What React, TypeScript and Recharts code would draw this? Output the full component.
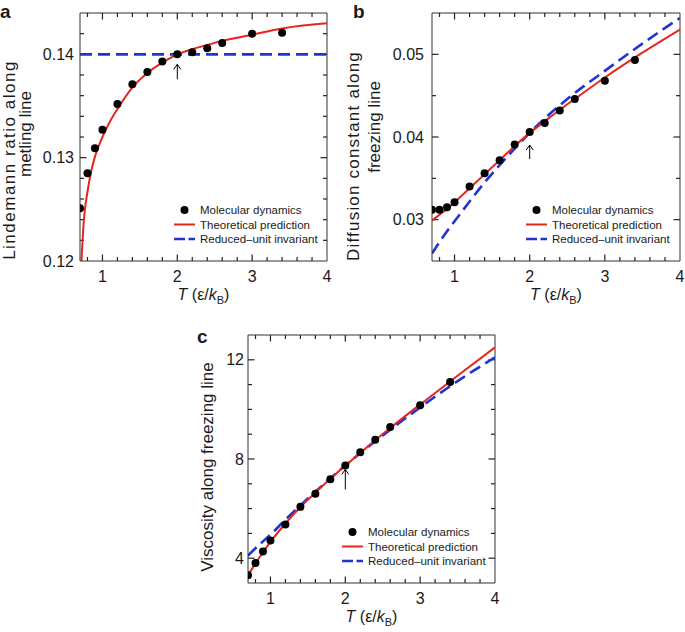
import React from 'react';
import { ComposedChart, Line, Scatter, XAxis, YAxis, ReferenceDot, ReferenceLine, Legend, Label } from 'recharts';

const FONT = '"Liberation Sans", Arial, Helvetica, sans-serif';
const INK = '#1a1a1a';
const FRAME = '#333';
const RED = '#e5261f';
const BLUE = '#1f33d6';

// temperatures of the molecular dynamics runs (shared by all panels)
const mdT = [0.7, 0.8, 0.9, 1.0, 1.2, 1.4, 1.6, 1.8, 2.0, 2.2, 2.4, 2.6, 3.0, 3.4];

// x axis
const xDomain: [number, number] = [0.7, 4];
const xMajor = [1, 2, 3, 4];
const xMinor = [0.8, 1.2, 1.4, 1.6, 1.8, 2.2, 2.4, 2.6, 2.8, 3.2, 3.4, 3.6, 3.8];

// a: Lindemann ratio along melting line
const mdLindemann = [0.1251, 0.1285, 0.1309, 0.1327, 0.1352, 0.1371, 0.1383, 0.1393, 0.14, 0.1402, 0.1406, 0.1411, 0.142, 0.1421];
const theoryLindemannT = [0.72, 0.75, 0.8, 0.85, 0.9, 1.0, 1.1, 1.2, 1.4, 1.6, 1.8, 2.0, 2.2, 2.4, 2.6, 3.0, 3.4, 4.0];
const theoryLindemann = [0.12, 0.1238, 0.1267, 0.1287, 0.1301, 0.132, 0.1335, 0.1347, 0.1368, 0.1382, 0.1392, 0.14, 0.1405, 0.1409, 0.1413, 0.1419, 0.1425, 0.143];
const invariantLindemannT = [0.7, 4.0];
const invariantLindemann = [0.14, 0.14];
const yMajorA = [0.12, 0.13, 0.14];
const yMinorA = [0.122, 0.124, 0.126, 0.128, 0.132, 0.134, 0.136, 0.138, 0.142];

// b: diffusion constant along freezing line
const mdDiffusion = [0.0312, 0.0312, 0.0315, 0.0321, 0.034, 0.0356, 0.0372, 0.0391, 0.0406, 0.0417, 0.0432, 0.0446, 0.0468, 0.0493];
const theoryDiffusionT = [0.7, 0.8, 0.9, 1.0, 1.2, 1.4, 1.6, 1.8, 2.0, 2.2, 2.4, 2.6, 3.0, 3.5, 4.0];
const theoryDiffusion = [0.0299, 0.0306, 0.0313, 0.0321, 0.0338, 0.0355, 0.0372, 0.0389, 0.0405, 0.0419, 0.0433, 0.0446, 0.0472, 0.0502, 0.053];
const invariantDiffusionT = [0.7, 0.8, 0.9, 1.0, 1.2, 1.4, 1.6, 1.8, 2.0, 2.5, 3.0, 3.5, 4.0];
const invariantDiffusion = [0.0259, 0.0273, 0.0286, 0.0298, 0.0322, 0.0345, 0.0366, 0.0386, 0.0405, 0.0446, 0.048, 0.0513, 0.0544];
const yMajorB = [0.03, 0.04, 0.05];
const yMinorB = [0.035, 0.045];

// c: viscosity along freezing line
const mdViscosity = [3.31, 3.81, 4.27, 4.71, 5.36, 6.07, 6.6, 7.18, 7.74, 8.27, 8.78, 9.29, 10.17, 11.1];
const theoryViscosityT = [0.7, 0.8, 0.9, 1.0, 1.2, 1.4, 1.6, 1.8, 2.0, 2.2, 2.4, 2.6, 3.0, 3.5, 4.0];
const theoryViscosity = [3.3, 3.79, 4.24, 4.66, 5.4, 6.06, 6.64, 7.2, 7.73, 8.25, 8.76, 9.25, 10.2, 11.36, 12.5];
const invariantViscosityT = [0.7, 0.8, 0.9, 1.0, 1.2, 1.4, 1.6, 1.8, 2.0, 2.2, 2.4, 2.6, 3.0, 3.5, 4.0];
const invariantViscosity = [4.1, 4.4, 4.68, 4.95, 5.55, 6.13, 6.68, 7.22, 7.74, 8.24, 8.72, 9.18, 10.08, 11.14, 12.1];
const yMajorC = [4, 8, 12];
const yMinorC = [5, 6, 7, 9, 10, 11];

const legendLabels = ['Molecular dynamics', 'Theoretical prediction', 'Reduced\u2013unit invariant'];

const zip = (ts: number[], vs: number[]) => ts.map((t, i) => ({ t, v: vs[i] }));

const dotShape = (p: any) => <circle cx={p.cx} cy={p.cy} r={4} fill="#000" />;

const arrowShape = (offset: number, len: number) => (p: any) => {
  const tip = p.cy + offset;
  return (
    <g stroke="#000" strokeWidth={1} fill="none">
      <line x1={p.cx} x2={p.cx} y1={tip} y2={tip + len} />
      <polyline points={`${p.cx - 3.5},${tip + 5} ${p.cx},${tip} ${p.cx + 3.5},${tip + 5}`} />
    </g>
  );
};

const LegendBox = () => (
  <svg width={170} height={46} style={{ display: 'block', overflow: 'visible' }}>
    <circle cx={14.5} cy={9} r={4} fill="#000" />
    <line x1={4} x2={25} y1={23.5} y2={23.5} stroke={RED} strokeWidth={2} />
    <line x1={4} x2={25} y1={38} y2={38} stroke={BLUE} strokeWidth={2.6} strokeDasharray="11 3.5" />
    {legendLabels.map((s, i) => (
      <text key={s} x={30} y={9 + i * 14.5} dy="0.36em" fontFamily={FONT} fontSize={11.5} fill={INK}>
        {s}
      </text>
    ))}
  </svg>
);

type TitleLine = { text: string; x: number; y: number; spacing?: number };

type PanelCfg = {
  left: number;
  top: number;
  width: number;
  height: number;
  plotLeft: number;
  plotTop: number;
  plotRight: number;
  plotBottom: number;
  yDomain: [number, number];
  yMajor: number[];
  yMinor: number[];
  yFmt: (v: number) => string;
  yGap: number;
  points: { t: number; v: number }[];
  theory: { t: number; v: number }[];
  invariant: { t: number; v: number }[];
  arrowOffset: number;
  arrowLen: number;
  letter: string;
  letterX: number;
  letterY: number;
  yTitle: TitleLine[];
};

const tickFont = { fontSize: 16, fill: INK, fontFamily: FONT };
const MAJOR_PX = 6.5;
const MINOR_PX = 4;

const Panel = (p: PanelCfg) => {
  const arrowAt = p.points.find((d) => d.t === 2)!;
  const cx = (p.plotLeft + p.plotRight) / 2;
  const [y0, y1] = p.yDomain;
  const [x0, x1] = xDomain;
  // tick lengths converted from pixels into data units
  const dy = (px: number) => (px / (p.plotBottom - p.plotTop)) * (y1 - y0);
  const dx = (px: number) => (px / (p.plotRight - p.plotLeft)) * (x1 - x0);

  const segs: { key: string; a: { x: number; y: number }; b: { x: number; y: number } }[] = [];
  const addX = (t: number, px: number) => {
    segs.push({ key: `b${t}`, a: { x: t, y: y0 }, b: { x: t, y: y0 + dy(px) } });
    segs.push({ key: `t${t}`, a: { x: t, y: y1 }, b: { x: t, y: y1 - dy(px) } });
  };
  const addY = (v: number, px: number) => {
    segs.push({ key: `l${v}`, a: { x: x0, y: v }, b: { x: x0 + dx(px), y: v } });
    segs.push({ key: `r${v}`, a: { x: x1, y: v }, b: { x: x1 - dx(px), y: v } });
  };
  xMajor.filter((t) => t < x1).forEach((t) => addX(t, MAJOR_PX));
  xMinor.forEach((t) => addX(t, MINOR_PX));
  p.yMajor.filter((v) => v > y0).forEach((v) => addY(v, MAJOR_PX));
  p.yMinor.forEach((v) => addY(v, MINOR_PX));

  const texts = () => (
    <g fontFamily={FONT} fill={INK}>
      <text x={p.letterX} y={p.letterY} fontSize={19} fontWeight="bold">
        {p.letter}
      </text>
      <text x={cx} y={p.plotBottom + 39} textAnchor="middle" fontSize={16}>
        <tspan fontStyle="italic">T</tspan>
        <tspan>{' (\u03b5/'}</tspan>
        <tspan fontStyle="italic">k</tspan>
        <tspan dy={4} fontSize={11}>B</tspan>
        <tspan dy={-4}>)</tspan>
      </text>
      {p.yTitle.map((l) => (
        <text
          key={l.text}
          x={l.x}
          y={l.y}
          textAnchor="middle"
          fontSize={17}
          letterSpacing={l.spacing ?? 0}
          transform={`rotate(-90 ${l.x} ${l.y})`}
        >
          {l.text}
        </text>
      ))}
    </g>
  );
  return (
    <div style={{ position: 'absolute', left: p.left, top: p.top }}>
      <ComposedChart
        width={p.width}
        height={p.height}
        margin={{ top: p.plotTop, right: p.width - p.plotRight, bottom: 0, left: 0 }}
      >
        <XAxis
          dataKey="t"
          type="number"
          domain={xDomain}
          ticks={xMajor}
          interval={0}
          allowDataOverflow
          height={p.height - p.plotBottom}
          tickSize={0}
          tickMargin={10}
          tickLine={false}
          axisLine={{ stroke: FRAME }}
          tick={tickFont}
        >
          <Label content={texts} />
        </XAxis>
        <YAxis
          dataKey="v"
          type="number"
          domain={p.yDomain}
          ticks={p.yMajor}
          interval={0}
          allowDataOverflow
          width={p.plotLeft}
          tickSize={0}
          tickMargin={p.yGap}
          tickLine={false}
          axisLine={{ stroke: FRAME }}
          tick={tickFont}
          tickFormatter={p.yFmt}
        />
        <ReferenceLine y={y1} stroke={FRAME} strokeWidth={1} />
        <ReferenceLine x={x1} stroke={FRAME} strokeWidth={1} />
        {segs.map((s) => (
          <ReferenceLine key={s.key} segment={[s.a, s.b]} stroke="#222" strokeWidth={1.2} />
        ))}
        <Line
          data={p.invariant}
          dataKey="v"
          type="monotone"
          stroke={BLUE}
          strokeWidth={2.6}
          strokeDasharray="12 6"
          dot={false}
          activeDot={false}
          isAnimationActive={false}
        />
        <Line
          data={p.theory}
          dataKey="v"
          type="monotone"
          stroke={RED}
          strokeWidth={2}
          dot={false}
          activeDot={false}
          isAnimationActive={false}
        />
        <Scatter data={p.points} dataKey="v" fill="#000" shape={dotShape} isAnimationActive={false} />
        <ReferenceDot x={2} y={arrowAt.v} shape={arrowShape(p.arrowOffset, p.arrowLen)} />
        <Legend
          layout="vertical"
          align="center"
          verticalAlign="middle"
          content={() => <LegendBox />}
          wrapperStyle={{ left: p.plotLeft + 90, top: p.plotTop + 188, width: 170, height: 46 }}
        />
      </ComposedChart>
    </div>
  );
};

export default function App() {
  return (
    <div style={{ position: 'absolute', left: 0, top: 0, width: 685, height: 632, background: '#fff' }}>
      <Panel
        left={0}
        top={0}
        width={340}
        height={310}
        plotLeft={80}
        plotTop={13}
        plotRight={327}
        plotBottom={261}
        yDomain={[0.12, 0.144]}
        yMajor={yMajorA}
        yMinor={yMinorA}
        yFmt={(v) => v.toFixed(2)}
        yGap={6}
        points={zip(mdT, mdLindemann)}
        theory={zip(theoryLindemannT, theoryLindemann)}
        invariant={zip(invariantLindemannT, invariantLindemann)}
        arrowOffset={10}
        arrowLen={15}
        letter="a"
        letterX={0}
        letterY={18}
        yTitle={[
          { text: 'Lindemann ratio along', x: 15, y: 160, spacing: 1.5 },
          { text: 'metling line', x: 31, y: 134 },
        ]}
      />
      <Panel
        left={340}
        top={0}
        width={345}
        height={310}
        plotLeft={92}
        plotTop={13}
        plotRight={340}
        plotBottom={261}
        yDomain={[0.025, 0.055]}
        yMajor={yMajorB}
        yMinor={yMinorB}
        yFmt={(v) => v.toFixed(2)}
        yGap={8}
        points={zip(mdT, mdDiffusion)}
        theory={zip(theoryDiffusionT, theoryDiffusion)}
        invariant={zip(invariantDiffusionT, invariantDiffusion)}
        arrowOffset={13}
        arrowLen={14}
        letter="b"
        letterX={13}
        letterY={18}
        yTitle={[
          { text: 'Diffusion constant along', x: 19, y: 156, spacing: 1.2 },
          { text: 'freezing line', x: 40, y: 127 },
        ]}
      />
      <Panel
        left={180}
        top={310}
        width={340}
        height={322}
        plotLeft={68}
        plotTop={25}
        plotRight={315}
        plotBottom={273}
        yDomain={[3, 13]}
        yMajor={yMajorC}
        yMinor={yMinorC}
        yFmt={(v) => String(v)}
        yGap={4}
        points={zip(mdT, mdViscosity)}
        theory={zip(theoryViscosityT, theoryViscosity)}
        invariant={zip(invariantViscosityT, invariantViscosity)}
        arrowOffset={4}
        arrowLen={20}
        letter="c"
        letterX={17}
        letterY={33}
        yTitle={[{ text: 'Viscosity along freezing line', x: 33, y: 157 }]}
      />
    </div>
  );
}
